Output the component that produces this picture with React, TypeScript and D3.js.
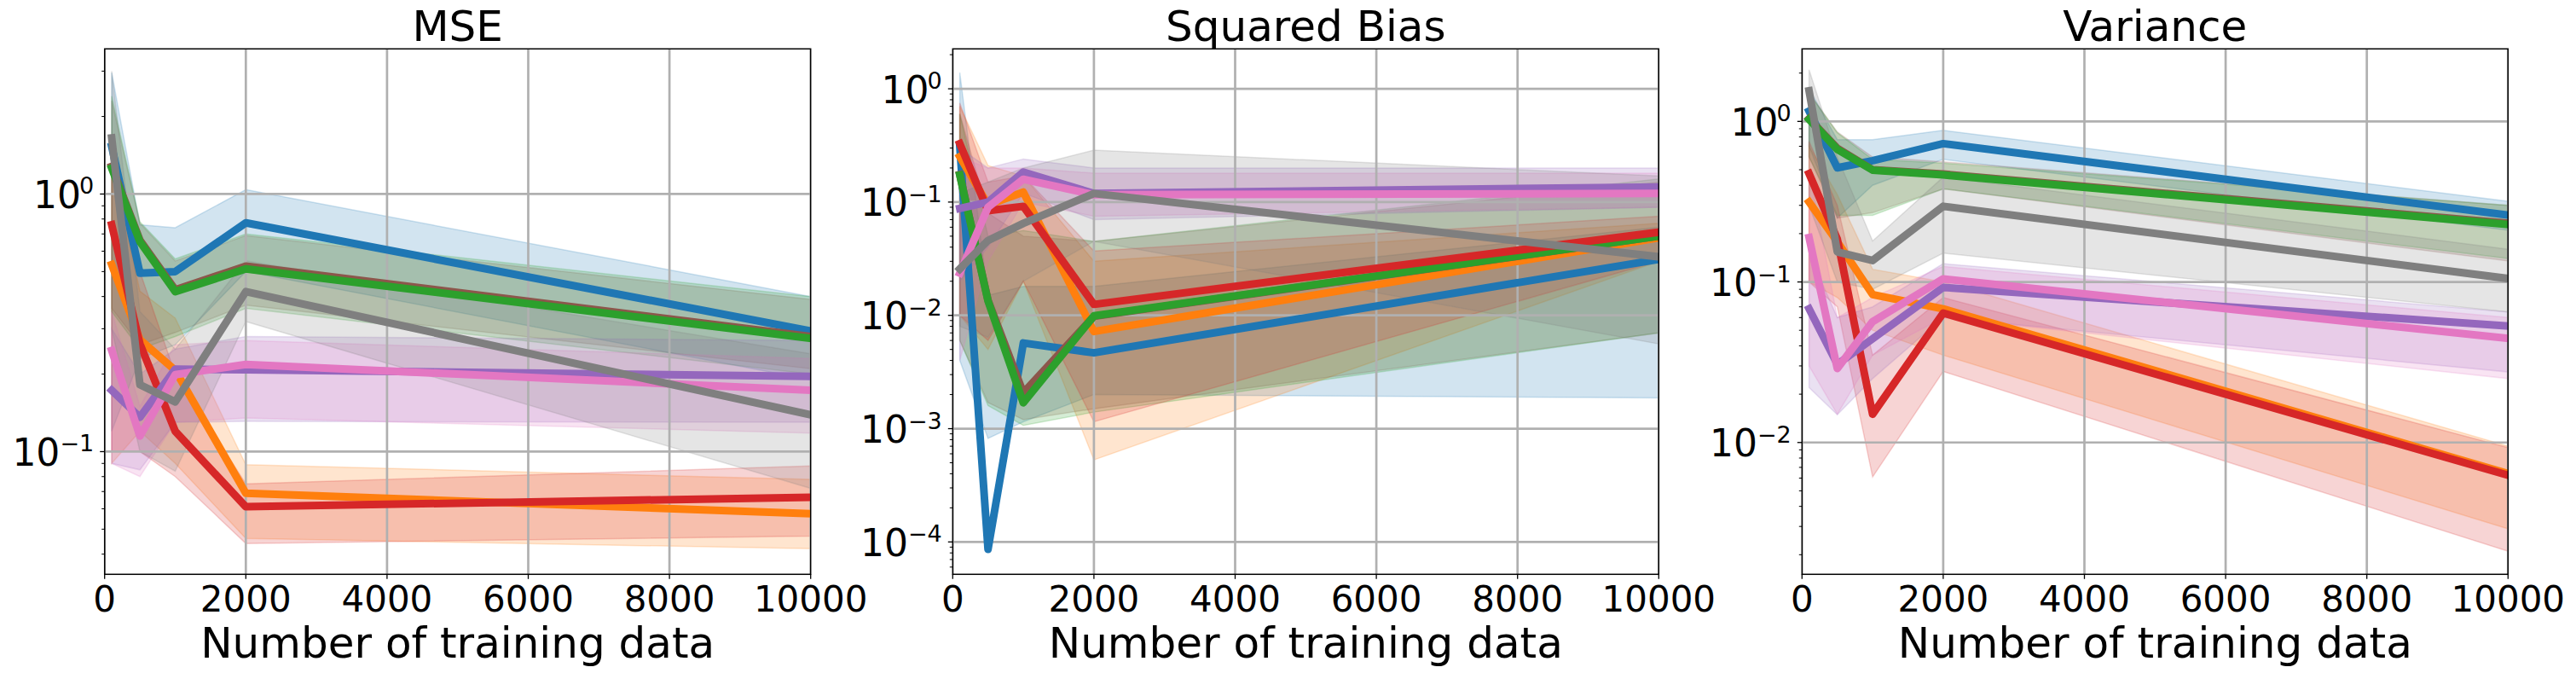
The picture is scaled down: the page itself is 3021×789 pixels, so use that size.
import React from "react";
import * as d3 from "d3";

// ---------- data ----------
const xValues = [100, 500, 1000, 2000, 10000];
const xTicks = [0, 2000, 4000, 6000, 8000, 10000];
const panelTitles = ["MSE", "Squared Bias", "Variance"];
const xLabel = "Number of training data";

// series order: blue, orange, green, red, purple, brown, pink, gray
const seriesNames = ["S0", "S1", "S2", "S3", "S4", "S5", "S6", "S7"];
const seriesColors = ["#1f77b4", "#ff7f0e", "#2ca02c", "#d62728", "#9467bd", "#8c564b", "#e377c2", "#7f7f7f"];
const drawOrder = [0, 1, 5, 2, 3, 4, 6, 7];

const mseMean = [
  [1.53, 0.493, 0.5, 0.773, 0.294],
  [0.532, 0.272, 0.207, 0.0689, 0.0574],
  [1.26, 0.653, 0.418, 0.512, 0.275],
  [0.76, 0.262, 0.12, 0.0611, 0.0665],
  [0.173, 0.136, 0.209, 0.208, 0.196],
  [1.28, 0.662, 0.425, 0.525, 0.28],
  [0.247, 0.115, 0.199, 0.218, 0.173],
  [1.65, 0.182, 0.156, 0.418, 0.139],
];
const mseLower = [
  [0.12, 0.23, 0.26, 0.5, 0.19],
  [0.09, 0.12, 0.09, 0.046, 0.042],
  [0.35, 0.25, 0.28, 0.36, 0.2],
  [0.1, 0.1, 0.08, 0.044, 0.047],
  [0.09, 0.085, 0.13, 0.131, 0.13],
  [0.36, 0.26, 0.29, 0.37, 0.21],
  [0.09, 0.08, 0.13, 0.135, 0.118],
  [0.3, 0.1, 0.084, 0.32, 0.072],
];
const mseUpper = [
  [2.96, 0.76, 0.74, 1.04, 0.4],
  [1.3, 0.42, 0.33, 0.089, 0.078],
  [2.4, 0.78, 0.56, 0.7, 0.4],
  [1.3, 0.5, 0.2, 0.075, 0.088],
  [0.3, 0.2, 0.25, 0.28, 0.27],
  [2.3, 0.77, 0.55, 0.69, 0.39],
  [0.35, 0.15, 0.26, 0.27, 0.23],
  [3.0, 0.35, 0.25, 0.55, 0.24],
];

const biasMean = [
  [0.31, 0.000086, 0.0057, 0.00467, 0.0312],
  [0.252, 0.0944, 0.1225, 0.0072, 0.0483],
  [0.173, 0.0134, 0.00169, 0.0099, 0.05],
  [0.328, 0.084, 0.0917, 0.0125, 0.0542],
  [0.088, 0.1, 0.184, 0.119, 0.136],
  [0.175, 0.0136, 0.00207, 0.0098, 0.05],
  [0.0236, 0.09, 0.159, 0.116, 0.119],
  [0.0257, 0.0458, 0.0648, 0.119, 0.0329],
];
const biasLower = [
  [0.004, 0.00082, 0.00115, 0.002, 0.00187],
  [0.01, 0.005, 0.02, 0.00053, 0.03],
  [0.006, 0.0016, 0.00107, 0.0014, 0.007],
  [0.01, 0.006, 0.02, 0.00115, 0.03],
  [0.02, 0.04, 0.12, 0.07, 0.09],
  [0.006, 0.0017, 0.0012, 0.0015, 0.007],
  [0.004, 0.03, 0.1, 0.075, 0.09],
  [0.008, 0.0064, 0.02, 0.045, 0.0056],
];
const biasUpper = [
  [1.39, 0.015, 0.018, 0.018, 0.06],
  [0.7, 0.21, 0.17, 0.03, 0.065],
  [0.6, 0.05, 0.056, 0.045, 0.16],
  [0.75, 0.15, 0.17, 0.037, 0.075],
  [0.3, 0.2, 0.24, 0.2, 0.2],
  [0.6, 0.08, 0.05, 0.045, 0.15],
  [0.25, 0.2, 0.2, 0.18, 0.18],
  [0.12, 0.15, 0.2, 0.287, 0.17],
];

const varMean = [
  [1.16, 0.514, 0.569, 0.727, 0.261],
  [0.315, 0.178, 0.0835, 0.068, 0.0064],
  [1.03, 0.67, 0.497, 0.464, 0.228],
  [0.473, 0.185, 0.015, 0.064, 0.00625],
  [0.068, 0.0307, 0.0443, 0.0925, 0.0532],
  [1.04, 0.68, 0.5, 0.47, 0.232],
  [0.189, 0.0289, 0.0566, 0.1045, 0.0445],
  [1.55, 0.154, 0.136, 0.296, 0.105],
];
const varLower = [
  [0.7, 0.25, 0.4, 0.58, 0.21],
  [0.1, 0.08, 0.05, 0.035, 0.0029],
  [0.6, 0.26, 0.26, 0.38, 0.14],
  [0.1, 0.07, 0.0061, 0.0277, 0.0021],
  [0.022, 0.0149, 0.025, 0.06, 0.0275],
  [0.6, 0.25, 0.27, 0.38, 0.135],
  [0.03, 0.015, 0.035, 0.06, 0.025],
  [0.3, 0.1, 0.09, 0.151, 0.065],
];
const varUpper = [
  [1.6, 0.77, 0.77, 0.88, 0.318],
  [0.7, 0.35, 0.12, 0.1, 0.0095],
  [1.5, 0.85, 0.58, 0.55, 0.3],
  [0.75, 0.3, 0.035, 0.08, 0.0093],
  [0.15, 0.06, 0.07, 0.13, 0.065],
  [1.5, 0.86, 0.6, 0.56, 0.3],
  [0.5, 0.06, 0.08, 0.125, 0.06],
  [2.1, 0.6, 0.18, 0.45, 0.16],
];

const yDomains = [
  [0.0334, 3.66],
  [5.18e-5, 2.25],
  [1.51e-3, 2.83],
];
const yMajorExps = [
  [-1, 0],
  [-4, -3, -2, -1, 0],
  [-2, -1, 0],
];

// ---------- layout ----------
const W = 3021;
const H = 789;
const panelLefts = [122.7, 1117.3, 2113.3];
const panelWidth = 828;
const plotTop = 57.3;
const plotBottom = 673.3;
const FONT = "DejaVu Sans, Liberation Sans, sans-serif";

const panelData = [
  { mean: mseMean, lower: mseLower, upper: mseUpper },
  { mean: biasMean, lower: biasLower, upper: biasUpper },
  { mean: varMean, lower: varLower, upper: varUpper },
];

function Panel({ idx }: { idx: number }) {
  const left = panelLefts[idx];
  const right = left + panelWidth;
  const x = d3.scaleLinear().domain([0, 10000]).range([left, right]);
  const y = d3.scaleLog().domain(yDomains[idx]).range([plotBottom, plotTop]);
  const { mean, lower, upper } = panelData[idx];
  const clipId = `clip-${idx}`;

  const makeArea = (s: number) =>
    d3
      .area<number>()
      .x((_, i) => x(xValues[i]))
      .y0((_, i) => y(lower[s][i]))
      .y1((_, i) => y(upper[s][i]))(xValues) || "";

  const line = d3
    .line<number>()
    .x((_, i) => x(xValues[i]))
    .y((d) => y(d));

  const [d0, d1] = yDomains[idx];
  const minorTicks: number[] = [];
  for (let e = Math.floor(Math.log10(d0)); e <= Math.ceil(Math.log10(d1)); e++) {
    for (let m = 2; m <= 9; m++) {
      const v = m * Math.pow(10, e);
      if (v >= d0 && v <= d1) minorTicks.push(v);
    }
  }
  const majors = yMajorExps[idx];

  return (
    <g>
      <defs>
        <clipPath id={clipId}>
          <rect x={left} y={plotTop} width={panelWidth} height={plotBottom - plotTop} />
        </clipPath>
      </defs>
      <g clipPath={`url(#${clipId})`}>
        {drawOrder.map((s) => (
          <path
            key={`f${s}`}
            d={makeArea(s)}
            fill={seriesColors[s]}
            fillOpacity={0.2}
            stroke={seriesColors[s]}
            strokeOpacity={0.2}
            strokeWidth={1.5}
          />
        ))}
        {xTicks.map((t) => (
          <line key={`gx${t}`} x1={x(t)} x2={x(t)} y1={plotTop} y2={plotBottom} stroke="#b0b0b0" strokeWidth={2.7} />
        ))}
        {majors.map((e) => (
          <line key={`gy${e}`} x1={left} x2={right} y1={y(Math.pow(10, e))} y2={y(Math.pow(10, e))} stroke="#b0b0b0" strokeWidth={2.7} />
        ))}
        {drawOrder.map((s) => (
          <path
            key={`l${s}`}
            d={line(mean[s]) || ""}
            fill="none"
            stroke={seriesColors[s]}
            strokeWidth={9}
            strokeLinejoin="round"
            strokeLinecap="square"
          />
        ))}
      </g>
      <rect x={left} y={plotTop} width={panelWidth} height={plotBottom - plotTop} fill="none" stroke="#000" strokeWidth={1.5} />
      {xTicks.map((t) => (
        <g key={`xt${t}`}>
          <line x1={x(t)} x2={x(t)} y1={plotBottom} y2={plotBottom + 5.5} stroke="#000" strokeWidth={1.3} />
          <text x={x(t)} y={717.3} textAnchor="middle" fontSize={42} fontFamily={FONT} fill="#000">
            {t}
          </text>
        </g>
      ))}
      {majors.map((e) => {
        const yy = y(Math.pow(10, e));
        const expStr = e < 0 ? `\u2212${-e}` : `${e}`;
        return (
          <g key={`yt${e}`}>
            <line x1={left - 5.5} x2={left} y1={yy} y2={yy} stroke="#000" strokeWidth={1.3} />
            <text x={left - 12.5} y={yy + 16.5} textAnchor="end" fontSize={44} fontFamily={FONT} fill="#000">
              <tspan>10</tspan>
              <tspan dx={e < 0 ? 0 : -2} dy={-16.5} fontSize={27}>
                {expStr}
              </tspan>
            </text>
          </g>
        );
      })}
      {minorTicks.map((v, i) => (
        <line key={`mt${i}`} x1={left - 3.5} x2={left} y1={y(v)} y2={y(v)} stroke="#000" strokeWidth={1} />
      ))}
      <text x={(left + right) / 2} y={47.7} textAnchor="middle" fontSize={50} fontFamily={FONT} fill="#000">
        {panelTitles[idx]}
      </text>
      <text x={(left + right) / 2} y={770.7} textAnchor="middle" fontSize={50} fontFamily={FONT} fill="#000">
        {xLabel}
      </text>
    </g>
  );
}

export default function App() {
  return (
    <svg
      width={W}
      height={H}
      viewBox={`0 0 ${W} ${H}`}
      style={{ position: "absolute", left: 0, top: 0, background: "#fff" }}
    >
      <rect x={0} y={0} width={W} height={H} fill="#fff" />
      {panelTitles.map((_, i) => (
        <Panel key={i} idx={i} />
      ))}
    </svg>
  );
}
